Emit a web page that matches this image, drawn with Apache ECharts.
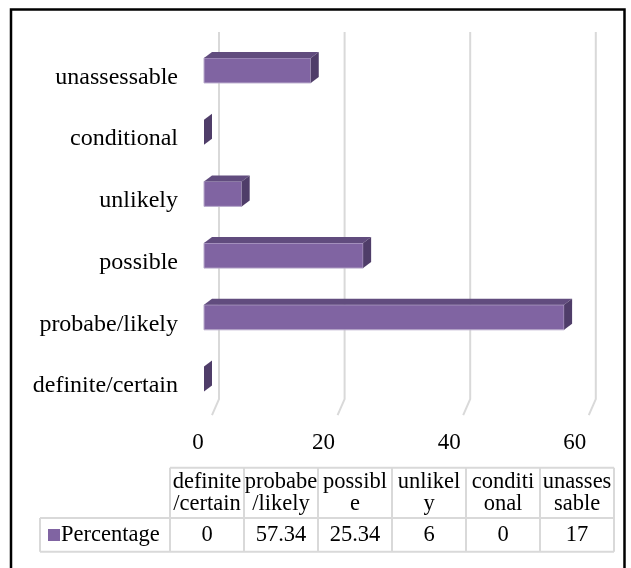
<!DOCTYPE html>
<html>
<head>
<meta charset="utf-8">
<script src="https://cdn.jsdelivr.net/npm/echarts@6/dist/echarts.min.js"></script>
<style>
  html, body { margin: 0; padding: 0; background: #fff; }
  #chart { width: 631px; height: 568px; }
</style>
</head>
<body>
<div id="chart"></div>
<script>
// Categories (bottom to top on the bar axis)
const categories = ['definite/certain', 'probabe/likely', 'possible', 'unlikely', 'conditional', 'unassessable'];
// Column headings of the data table, wrapped the way the table cells wrap them
const headerLabels = ['definite\n/certain', 'probabe\n/likely', 'possibl\ne', 'unlikel\ny', 'conditi\nonal', 'unasses\nsable'];
const seriesName = 'Percentage';
const percentage = [0, 57.34, 25.34, 6, 0, 17];
const valueTicks = [0, 20, 40, 60];

const FONT = '"Liberation Serif", "Times New Roman", serif';
const FRONT = '#8064A2';
const TOP = '#614C7E';
const SIDE = '#4F3D69';
const GRID_LINE = '#D9D9D9';
const DX = 8, DY = -6;          // depth of each bar
const WALL_DX = 15;             // back wall offset from the bar front plane
const FLOOR_DX = -7, FLOOR_DY = 16;

const chart = echarts.init(document.getElementById('chart'), null, { renderer: 'canvas' });

function renderBar(params, api) {
  const cat = api.value(0);
  const val = api.value(1);
  const p0 = api.coord([0, cat]);
  const p1 = api.coord([val, cat]);
  const band = api.size([0, 1])[1];
  const h = band * 0.405;
  const x0 = p0[0], x1 = p1[0];
  const yT = p0[1] - h / 2, yB = p0[1] + h / 2;
  const children = [];
  if (x1 - x0 > 0.5) {
    children.push({
      type: 'rect',
      shape: { x: x0, y: yT, width: x1 - x0, height: yB - yT },
      style: { fill: FRONT, stroke: '#B9ABCC', lineWidth: 1 }
    });
    children.push({
      type: 'polygon',
      shape: { points: [[x0, yT], [x0 + DX, yT + DY], [x1 + DX, yT + DY], [x1, yT]] },
      style: { fill: TOP }
    });
  }
  children.push({
    type: 'polygon',
    shape: { points: [[x1, yT], [x1 + DX, yT + DY], [x1 + DX, yB + DY], [x1, yB]] },
    style: { fill: SIDE }
  });
  return { type: 'group', children };
}

function renderWallLine(params, api) {
  const v = api.value(0);
  const x = api.coord([v, 0])[0];
  const cs = params.coordSys;
  const yTop = cs.y - 7.6;
  const yBack = cs.y + cs.height - 10.8;
  return {
    type: 'polyline',
    shape: { points: [[x + WALL_DX + FLOOR_DX, yBack + FLOOR_DY], [x + WALL_DX, yBack], [x + WALL_DX, yTop]] },
    style: { stroke: GRID_LINE, lineWidth: 2, fill: null }
  };
}

// Data table under the plot
const TABLE_X = 170, COL_W = 74, HEAD_Y = 467.7, ROW_Y = 518, ROW_B = 551.7, KEY_X = 40;
const TABLE_FONT = '22.5px ' + FONT;
const tableGraphics = [];
const tableRight = TABLE_X + COL_W * categories.length;
function hLine(x1, x2, y) {
  tableGraphics.push({ type: 'line', shape: { x1, y1: y, x2, y2: y }, style: { stroke: GRID_LINE, lineWidth: 2 } });
}
function vLine(x, y1, y2) {
  tableGraphics.push({ type: 'line', shape: { x1: x, y1, x2: x, y2 }, style: { stroke: GRID_LINE, lineWidth: 2 } });
}
hLine(TABLE_X, tableRight, HEAD_Y);
hLine(KEY_X, tableRight, ROW_Y);
hLine(KEY_X, tableRight, ROW_B);
vLine(KEY_X, ROW_Y, ROW_B);
for (let i = 0; i <= categories.length; i++) {
  vLine(TABLE_X + COL_W * i, HEAD_Y, ROW_B);
}
headerLabels.forEach((lab, i) => {
  tableGraphics.push({
    type: 'text',
    style: {
      text: lab, x: TABLE_X + COL_W * (i + 0.5), y: (HEAD_Y + ROW_Y) / 2,
      align: 'center', verticalAlign: 'middle', lineHeight: 22,
      font: TABLE_FONT, fill: '#000'
    }
  });
});
percentage.forEach((v, i) => {
  tableGraphics.push({
    type: 'text',
    style: {
      text: String(v), x: TABLE_X + COL_W * (i + 0.5), y: (ROW_Y + ROW_B) / 2,
      align: 'center', verticalAlign: 'middle',
      font: TABLE_FONT, fill: '#000'
    }
  });
});
tableGraphics.push({
  type: 'rect', shape: { x: 48, y: 529, width: 12, height: 12 }, style: { fill: FRONT }
});
tableGraphics.push({
  type: 'text',
  style: {
    text: seriesName, x: 61, y: (ROW_Y + ROW_B) / 2,
    align: 'left', verticalAlign: 'middle',
    font: TABLE_FONT, fill: '#000'
  }
});
// Outer frame
tableGraphics.push({
  type: 'rect', shape: { x: 11, y: 9.5, width: 613.5, height: 580 },
  style: { fill: null, stroke: '#000', lineWidth: 2.5 }
});

const option = {
  backgroundColor: '#fff',
  animation: false,
  grid: { left: 204, top: 39.6, width: 376.8, height: 370.3, containLabel: false },
  xAxis: {
    type: 'value', min: 0, max: 60, interval: 20,
    axisLine: { show: false }, axisTick: { show: false }, splitLine: { show: false },
    axisLabel: {
      color: '#000', fontFamily: FONT, fontSize: 23, margin: 22,
      padding: [0, 12, 0, 0]
    }
  },
  yAxis: {
    type: 'category', data: categories,
    axisLine: { show: false }, axisTick: { show: false },
    axisLabel: {
      color: '#000', fontFamily: FONT, fontSize: 24, margin: 26,
      verticalAlign: 'top', lineHeight: 14
    }
  },
  series: [
    {
      type: 'custom', name: 'wall', z: 1, silent: true,
      renderItem: renderWallLine,
      encode: { x: 0, y: 1 },
      data: valueTicks.map(v => [v, 0])
    },
    {
      type: 'custom', name: seriesName, z: 2,
      renderItem: renderBar,
      encode: { x: 1, y: 0 },
      data: percentage.map((v, i) => [i, v])
    }
  ],
  graphic: { elements: tableGraphics }
};
chart.setOption(option);
</script>
</body>
</html>
